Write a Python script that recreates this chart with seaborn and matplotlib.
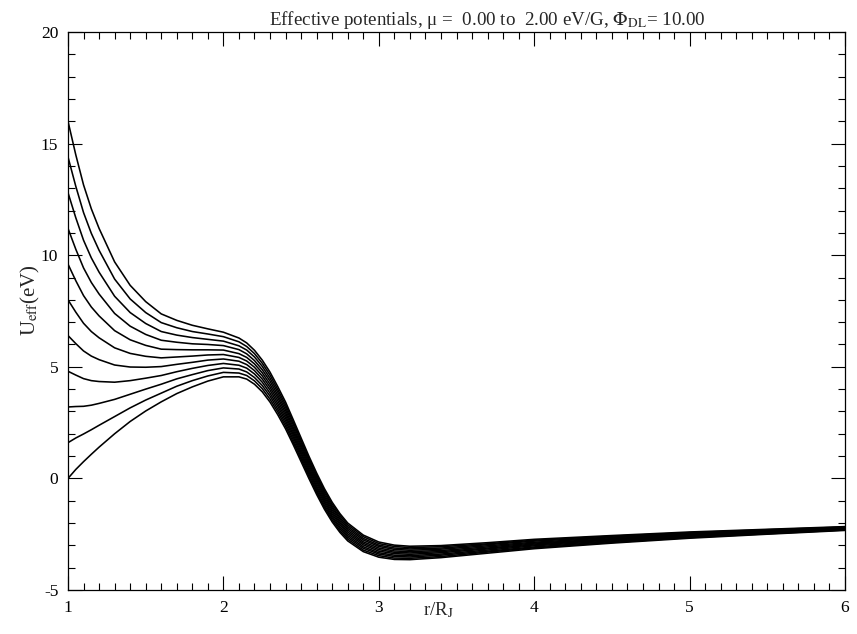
import numpy as np
import pandas as pd
import matplotlib
matplotlib.use("Agg")
import matplotlib.pyplot as plt
from matplotlib.ticker import MultipleLocator
import seaborn as sns

# radial grid r/R_J
r_vals = [1.0, 1.05, 1.1, 1.15, 1.2, 1.3, 1.4, 1.5, 1.6, 1.7, 1.8, 1.9, 2.0, 2.1, 2.15, 2.2,
          2.25, 2.3, 2.35, 2.4, 2.45, 2.5, 2.55, 2.6, 2.65, 2.7, 2.75, 2.8, 2.9, 3.0, 3.1, 3.2,
          3.4, 3.7, 4.0, 4.5, 5.0, 5.5, 6.0]

mu_labels = ["0.0", "0.2", "0.4", "0.6", "0.8", "1.0", "1.2", "1.4", "1.6", "1.8", "2.0"]

u_mu00 = [0.00, 0.40, 0.75, 1.08, 1.40, 2.00, 2.55, 3.02, 3.43, 3.80, 4.10, 4.36, 4.55, 4.55, 4.45, 4.22,
          3.88, 3.42, 2.85, 2.22, 1.50, 0.75, 0.00, -0.72, -1.38, -1.95, -2.42, -2.80, -3.28, -3.53, -3.63, -3.64,
          -3.55, -3.35, -3.15, -2.90, -2.68, -2.50, -2.33]
u_mu02 = [1.60, 1.81, 1.99, 2.18, 2.38, 2.77, 3.16, 3.51, 3.82, 4.13, 4.38, 4.59, 4.75, 4.72, 4.61, 4.37,
          4.02, 3.55, 2.98, 2.34, 1.61, 0.86, 0.10, -0.62, -1.29, -1.86, -2.34, -2.72, -3.21, -3.46, -3.57, -3.58,
          -3.50, -3.30, -3.11, -2.87, -2.65, -2.48, -2.31]
u_mu04 = [3.20, 3.22, 3.23, 3.28, 3.36, 3.54, 3.77, 4.00, 4.22, 4.46, 4.65, 4.83, 4.95, 4.90, 4.77, 4.52,
          4.16, 3.69, 3.10, 2.46, 1.72, 0.96, 0.20, -0.53, -1.20, -1.77, -2.25, -2.64, -3.13, -3.39, -3.50, -3.52,
          -3.44, -3.26, -3.07, -2.83, -2.62, -2.46, -2.30]
u_mu06 = [4.80, 4.63, 4.47, 4.38, 4.34, 4.31, 4.38, 4.49, 4.61, 4.78, 4.93, 5.06, 5.15, 5.07, 4.94, 4.68,
          4.31, 3.82, 3.23, 2.58, 1.84, 1.07, 0.30, -0.43, -1.10, -1.69, -2.17, -2.56, -3.06, -3.33, -3.44, -3.46,
          -3.39, -3.21, -3.02, -2.80, -2.60, -2.43, -2.28]
u_mu08 = [6.40, 6.04, 5.71, 5.48, 5.32, 5.08, 4.99, 4.98, 5.01, 5.11, 5.20, 5.30, 5.35, 5.25, 5.10, 4.83,
          4.45, 3.96, 3.35, 2.70, 1.95, 1.17, 0.40, -0.34, -1.01, -1.60, -2.08, -2.48, -2.98, -3.26, -3.37, -3.40,
          -3.33, -3.16, -2.98, -2.76, -2.57, -2.41, -2.26]
u_mu10 = [8.00, 7.45, 6.95, 6.58, 6.30, 5.85, 5.60, 5.47, 5.40, 5.44, 5.48, 5.53, 5.55, 5.42, 5.26, 4.98,
          4.59, 4.09, 3.48, 2.82, 2.06, 1.28, 0.50, -0.24, -0.92, -1.51, -2.00, -2.40, -2.91, -3.19, -3.31, -3.34,
          -3.28, -3.12, -2.94, -2.73, -2.54, -2.39, -2.25]
u_mu12 = [9.60, 8.86, 8.19, 7.68, 7.28, 6.62, 6.21, 5.96, 5.79, 5.77, 5.76, 5.76, 5.75, 5.59, 5.42, 5.13,
          4.73, 4.22, 3.61, 2.94, 2.17, 1.39, 0.60, -0.14, -0.83, -1.42, -1.92, -2.32, -2.84, -3.12, -3.25, -3.28,
          -3.23, -3.07, -2.90, -2.70, -2.51, -2.37, -2.23]
u_mu14 = [11.20, 10.27, 9.43, 8.78, 8.26, 7.39, 6.82, 6.45, 6.19, 6.10, 6.03, 6.00, 5.95, 5.77, 5.58, 5.28,
          4.87, 4.36, 3.73, 3.06, 2.28, 1.49, 0.70, -0.05, -0.74, -1.33, -1.83, -2.24, -2.76, -3.05, -3.18, -3.22,
          -3.17, -3.02, -2.86, -2.66, -2.48, -2.35, -2.21]
u_mu16 = [12.80, 11.68, 10.67, 9.88, 9.24, 8.16, 7.43, 6.94, 6.58, 6.42, 6.31, 6.23, 6.15, 5.94, 5.75, 5.44,
          5.02, 4.49, 3.86, 3.18, 2.40, 1.60, 0.80, 0.05, -0.64, -1.25, -1.75, -2.16, -2.69, -2.99, -3.12, -3.16,
          -3.12, -2.97, -2.81, -2.63, -2.46, -2.32, -2.19]
u_mu18 = [14.40, 13.09, 11.91, 10.98, 10.22, 8.93, 8.04, 7.43, 6.98, 6.75, 6.58, 6.47, 6.35, 6.12, 5.91, 5.59,
          5.16, 4.63, 3.98, 3.30, 2.51, 1.70, 0.90, 0.14, -0.55, -1.16, -1.66, -2.08, -2.61, -2.92, -3.05, -3.10,
          -3.06, -2.93, -2.77, -2.59, -2.43, -2.30, -2.18]
u_mu20 = [16.00, 14.50, 13.15, 12.08, 11.20, 9.70, 8.65, 7.92, 7.37, 7.08, 6.86, 6.70, 6.55, 6.29, 6.07, 5.74,
          5.30, 4.76, 4.11, 3.42, 2.62, 1.81, 1.00, 0.24, -0.46, -1.07, -1.58, -2.00, -2.54, -2.85, -2.99, -3.04,
          -3.01, -2.88, -2.73, -2.56, -2.40, -2.28, -2.16]

curves = [u_mu00, u_mu02, u_mu04, u_mu06, u_mu08, u_mu10, u_mu12, u_mu14, u_mu16, u_mu18, u_mu20]

rows = []
for lab, ys in zip(mu_labels, curves):
    for x, y in zip(r_vals, ys):
        rows.append({"r": x, "U": y, "mu": lab})
df = pd.DataFrame(rows)

sns.set_style("white")
plt.rcParams["font.family"] = ["Liberation Serif", "DejaVu Serif"]
plt.rcParams["mathtext.fontset"] = "stix"
plt.rcParams["axes.unicode_minus"] = False

fig = plt.figure(figsize=(8.57, 6.34), dpi=100)
ax = fig.add_axes([68 / 857, 44 / 634, 777 / 857, 558 / 634])

sns.lineplot(data=df, x="r", y="U", hue="mu", palette=["black"] * len(mu_labels),
             estimator=None, sort=False, legend=False, linewidth=1.15, ax=ax)
for ln in ax.lines:
    ln.set_solid_joinstyle("round")

ax.set_xlim(1, 6)
ax.set_ylim(-5, 20)
ax.xaxis.set_major_locator(MultipleLocator(1))
ax.xaxis.set_minor_locator(MultipleLocator(0.1))
ax.yaxis.set_major_locator(MultipleLocator(5))
ax.yaxis.set_minor_locator(MultipleLocator(1))
ax.tick_params(which="both", direction="in", top=True, right=True, bottom=True, left=True,
               colors="black", labelsize=12.5, width=0.8)
ax.tick_params(which="major", length=10, pad=7)
ax.tick_params(which="minor", length=5)
for s in ax.spines.values():
    s.set_color("black")
    s.set_linewidth(0.9)

ax.set_xlabel(r"r/R$_{\rm J}$", fontsize=13.5, labelpad=0)
ax.xaxis.set_label_coords((438 - 68) / 777, -0.019)
ax.set_ylabel(r"U$_{\rm eff}$(eV)", fontsize=15, labelpad=4)
ax.yaxis.set_label_coords(-0.034, 0.52)
ax.set_title(r"Effective potentials, μ =  0.00 to  2.00 eV/G, $\mathrm{\Phi_{DL}}$= 10.00",
             fontsize=13.7, pad=5, x=(487 - 68) / 777)

fig.savefig("out.png", dpi=100, facecolor="white")
